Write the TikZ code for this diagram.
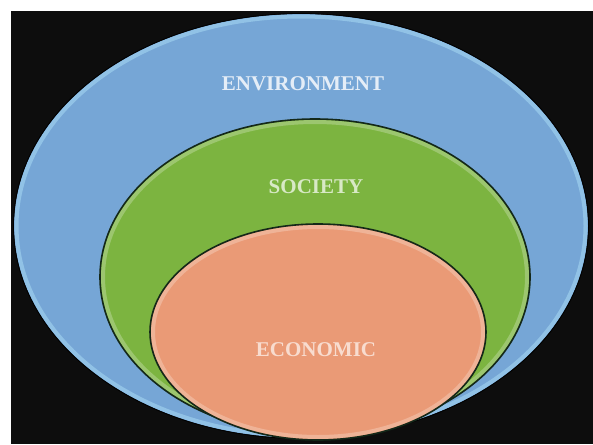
\documentclass[tikz,border=0pt]{standalone}
\usepackage{fontspec}
\setmainfont{Liberation Serif}
\usepackage{tikz}

\definecolor{envblue}{RGB}{118,166,214}
\definecolor{socgreen}{RGB}{124,180,64}
\definecolor{ecoorange}{RGB}{234,154,118}
\definecolor{rimdark}{RGB}{20,40,25}

\tikzset{
  ring/.style={draw=rimdark, line width=1.6pt},
  gloss/.style={line width=4pt, opacity=0.45},
  label/.style={font=\bfseries\fontsize{21}{25}\selectfont, inner sep=0pt}
}

\begin{document}
\begin{tikzpicture}[x=1pt,y=-1pt]
        % page and black backdrop
        \fill[white] (0,0) rectangle (593,444);
        \fill[black!95] (11,11) rectangle (593,444);
        % outer ellipse
        \fill[envblue] (301,226) ellipse [x radius=287, y radius=212];
        \draw[gloss, white!70!cyan] (301,226) ellipse [x radius=284.5, y radius=209.5];
        \draw[black, line width=0.8pt] (301,226) ellipse [x radius=287.5, y radius=212.5];
        % middle ellipse
        \fill[socgreen] (315,277) ellipse [x radius=215, y radius=158];
        \draw[gloss, white!55!socgreen] (315,277) ellipse [x radius=212, y radius=155];
        \draw[ring] (315,277) ellipse [x radius=215, y radius=158];
        % inner ellipse
        \fill[ecoorange] (318,332) ellipse [x radius=168, y radius=108];
        \draw[gloss, white!55!ecoorange] (318,332) ellipse [x radius=165, y radius=105];
        \draw[ring] (318,332) ellipse [x radius=168, y radius=108];
        % labels
        \node[label, text=white!80!envblue] (env) at (303,84) {ENVIRONMENT};
        \node[label, text=white!70!socgreen] (soc) at (316,187) {SOCIETY};
        \node[label, text=white!65!ecoorange] (eco) at (316,350) {ECONOMIC};
    \end{tikzpicture}
\end{document}
